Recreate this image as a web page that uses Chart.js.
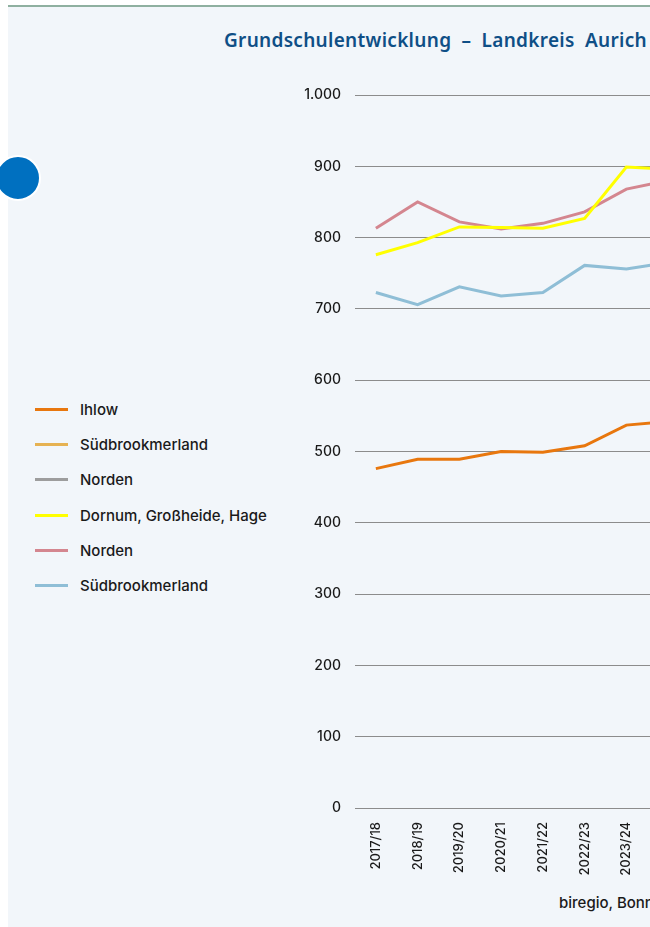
<!DOCTYPE html>
<html>
<head>
<meta charset="utf-8">
<script src="https://cdn.jsdelivr.net/npm/chart.js@4.4.1/dist/chart.umd.min.js"></script>
<style>
  html, body { margin: 0; padding: 0; width: 650px; height: 927px; overflow: hidden; background: #fff; }
  #panel { position: absolute; left: 8px; top: 5px; width: 1000px; height: 922px; background: #f2f6fa; border-top: 2px solid #8fb0a0; }
  #title { position: absolute; left: 224px; top: 27px; white-space: nowrap; font-family: "Noto Sans", sans-serif; font-weight: 600; font-size: 19px; letter-spacing: 0.3px; word-spacing: 5px; color: #0f4f86; }
  #dot { position: absolute; left: -5px; top: 155px; width: 42px; height: 42px; border-radius: 50%; background: #0070c0; border: 2px solid #fff; }
  #legend { position: absolute; left: 35px; top: 392px; font-family: Inter, sans-serif; font-size: 15px; font-weight: 500; color: #1a1a1a; }
  #legend div { height: 35.2px; display: flex; align-items: center; white-space: nowrap; }
  #legend span.ln { display: inline-block; width: 33px; height: 3px; margin-right: 12px; }
  #wrap { position: absolute; left: 0; top: 70px; width: 900px; height: 808px; }
  #source { position: absolute; left: 559px; top: 893px; font-family: Inter, sans-serif; font-size: 15px; font-weight: 500; color: #1a1a1a; white-space: nowrap; }
</style>
</head>
<body>
<div id="panel"></div>
<div id="title">Grundschulentwicklung – Landkreis Aurich</div>
<div id="dot"></div>
<div id="legend"></div>
<div id="wrap"><canvas id="chart"></canvas></div>
<div id="source">biregio, Bonn</div>
<script>
// school years on the x axis (only the first ones are visible in the picture)
const years = ['2017/18', '2018/19', '2019/20', '2020/21', '2021/22', '2022/23', '2023/24',
  '2024/25', '2025/26', '2026/27', '2027/28', '2028/29'];

// pupils per area
const ihlow = [476, 489, 489, 500, 499, 508, 537, 542];
const suedbrookmerlandA = [];
const nordenA = [];
const dornum = [776, 793, 815, 814, 813, 827, 899, 896];
const nordenB = [813, 850, 822, 812, 820, 836, 868, 880];
const suedbrookmerlandB = [723, 706, 731, 718, 723, 761, 756, 765];

const yTicks = [0, 100, 200, 300, 400, 500, 600, 700, 800, 900, 1000];

const series = [
  { label: 'Ihlow', data: ihlow, color: '#e8770e' },
  { label: 'Südbrookmerland', data: suedbrookmerlandA, color: '#e6b252' },
  { label: 'Norden', data: nordenA, color: '#9d9d9d' },
  { label: 'Dornum, Großheide, Hage', data: dornum, color: '#ffff00' },
  { label: 'Norden', data: nordenB, color: '#d4868f' },
  { label: 'Südbrookmerland', data: suedbrookmerlandB, color: '#8fbed6' }
];

// html legend
const legend = document.getElementById('legend');
series.forEach(function(s) {
  const row = document.createElement('div');
  row.innerHTML = '<span class="ln" style="background:' + s.color + '"></span>' + s.label;
  legend.appendChild(row);
});

new Chart(document.getElementById('chart'), {
  type: 'line',
  data: {
    labels: years,
    datasets: series.map(function(s) {
      return {
        label: s.label,
        data: s.data,
        borderColor: s.color,
        backgroundColor: s.color,
        borderWidth: 3,
        pointRadius: 0,
        tension: 0,
        fill: false
      };
    })
  },
  options: {
    responsive: true,
    maintainAspectRatio: false,
    animation: false,
    layout: { padding: { left: 255, top: 25, right: 44, bottom: 0 } },
    plugins: {
      legend: { display: false },
      tooltip: { enabled: false }
    },
    scales: {
      x: {
        offset: true,
        grid: { display: false, drawTicks: false },
        border: { display: false },
        ticks: {
          color: '#1a1a1a',
          font: { family: 'Inter', size: 13, weight: '500' },
          minRotation: 90,
          maxRotation: 90,
          padding: 14,
          autoSkip: false
        },
        afterFit: function(axis) { axis.height = 70; }
      },
      y: {
        min: 0,
        max: 1000,
        afterBuildTicks: function(axis) { axis.ticks = yTicks.map(function(v) { return { value: v }; }); },
        grid: { color: '#8c8c8c', lineWidth: 1, drawTicks: false },
        border: { display: false },
        ticks: {
          color: '#1a1a1a',
          font: { family: 'Inter', size: 14, weight: '500' },
          padding: 14,
          callback: function(v) { return v.toLocaleString('de-DE'); }
        },
        afterFit: function(axis) { axis.width = 100; }
      }
    }
  }
});
</script>
</body>
</html>
